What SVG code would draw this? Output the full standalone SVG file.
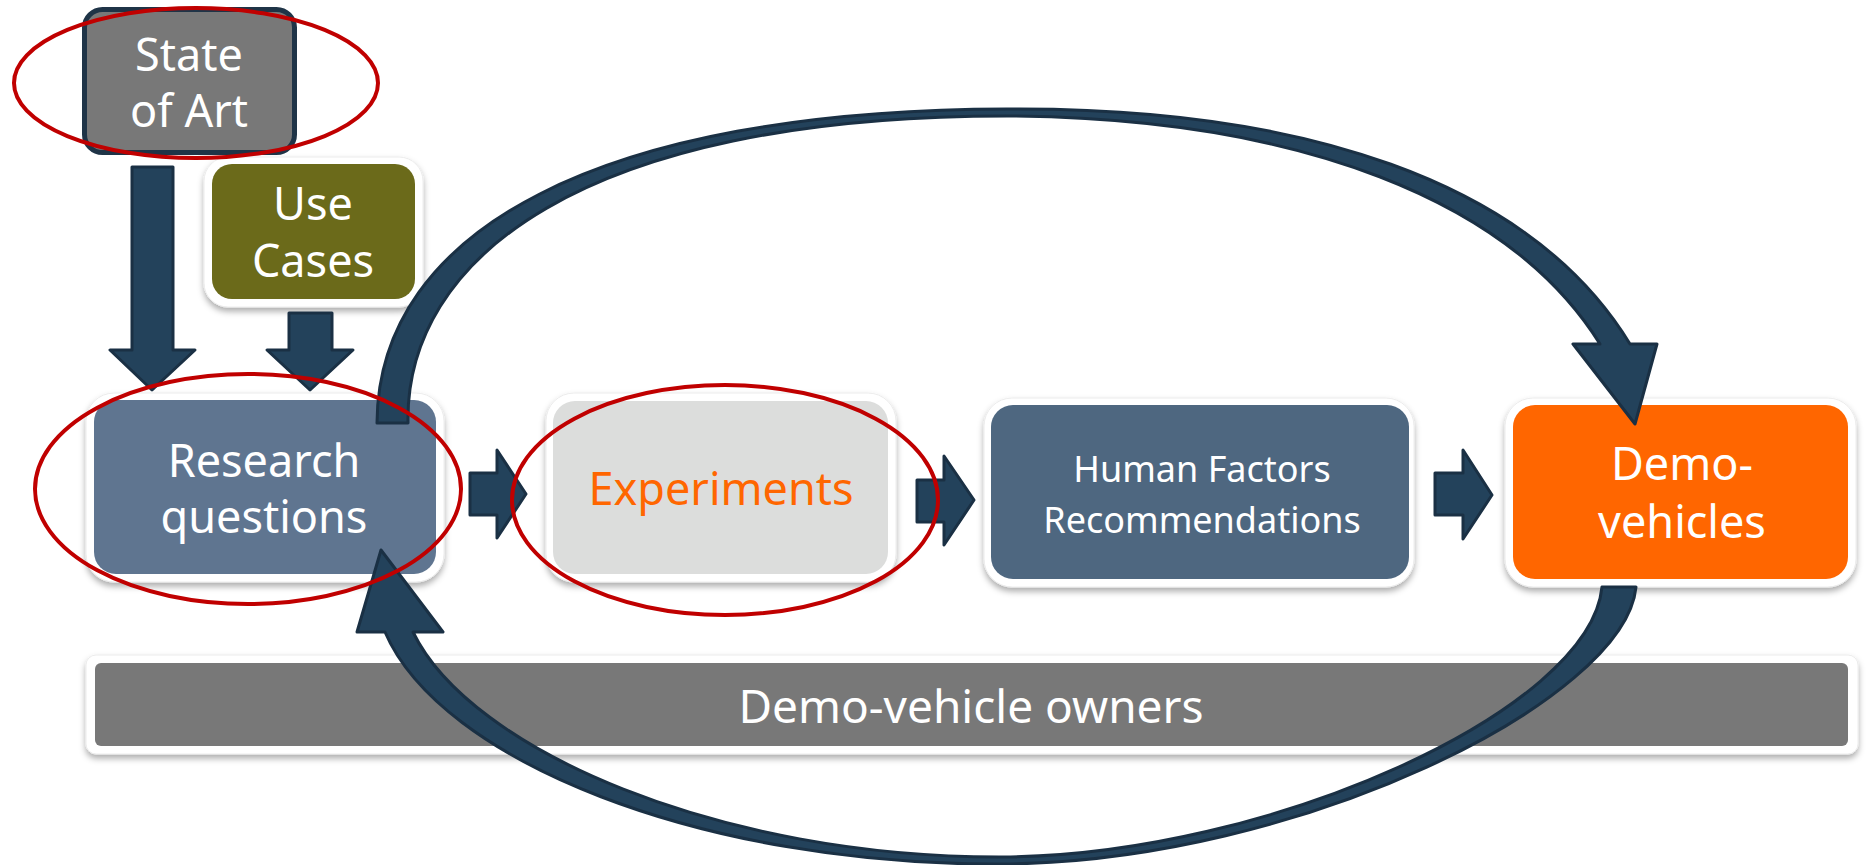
<svg xmlns="http://www.w3.org/2000/svg" width="1872" height="865" viewBox="0 0 1872 865">
  <defs>
    <filter id="shadow" x="-10%" y="-15%" width="120%" height="140%">
      <feDropShadow dx="0" dy="4" stdDeviation="3" flood-color="#000" flood-opacity="0.32"/>
    </filter>
    <style>
      .frame { fill: #ffffff; stroke: #ececec; stroke-width: 1; filter: url(#shadow); }
      .lbl { font-family: "Noto Sans", "Open Sans", sans-serif; font-size: 45px; fill: #ffffff; text-anchor: middle; }
      .arrow { fill: #23425b; stroke: #1a3044; stroke-width: 3; stroke-linejoin: round; }
      .ring { fill: none; stroke: #c00000; stroke-width: 4; }
    </style>
  </defs>

  <rect width="1872" height="865" fill="#ffffff"/>

  <!-- State of Art -->
  <g id="state-of-art">
    <rect x="84.5" y="9.5" width="210" height="143" rx="18" fill="#787878" stroke="#1f3447" stroke-width="5"/>
    <text class="lbl" x="189" y="71">State</text>
    <text class="lbl" x="189" y="127">of Art</text>
  </g>

  <!-- Use Cases -->
  <g id="use-cases">
    <rect class="frame" x="204" y="157" width="219" height="150" rx="24"/>
    <rect x="212" y="164" width="203" height="135" rx="20" fill="#6b6a1a"/>
    <text class="lbl" x="313" y="220">Use</text>
    <text class="lbl" x="313" y="277">Cases</text>
  </g>

  <!-- Research questions -->
  <g id="research-questions">
    <rect class="frame" x="86" y="393" width="358" height="189" rx="28"/>
    <rect x="94" y="400" width="342" height="174" rx="22" fill="#5f7590"/>
    <text class="lbl" x="264" y="477" font-size="44">Research</text>
    <text class="lbl" x="264" y="533" font-size="44">questions</text>
  </g>

  <!-- Experiments -->
  <g id="experiments">
    <rect class="frame" x="546" y="393" width="350" height="189" rx="28"/>
    <rect x="553" y="401" width="335" height="173" rx="22" fill="#dcdddc"/>
    <text class="lbl" x="721" y="505" style="fill:#ff6600">Experiments</text>
  </g>

  <!-- Human Factors Recommendations -->
  <g id="hf-recommendations">
    <rect class="frame" x="984" y="398" width="430" height="189" rx="28"/>
    <rect x="991" y="405" width="418" height="174" rx="22" fill="#4e6780"/>
    <text class="lbl" x="1202" y="482" style="font-size:36px">Human Factors</text>
    <text class="lbl" x="1202" y="533" style="font-size:36px">Recommendations</text>
  </g>

  <!-- Demo-vehicles -->
  <g id="demo-vehicles">
    <rect class="frame" x="1505" y="398" width="351" height="189" rx="28"/>
    <rect x="1513" y="405" width="335" height="174" rx="22" fill="#ff6600"/>
    <text class="lbl" x="1682" y="480">Demo-</text>
    <text class="lbl" x="1682" y="538">vehicles</text>
  </g>

  <!-- Demo-vehicle owners -->
  <g id="demo-vehicle-owners">
    <rect class="frame" x="86" y="655" width="1772" height="99" rx="10"/>
    <rect x="95" y="663" width="1753" height="83" rx="6" fill="#787878"/>
    <text class="lbl" x="971" y="723" style="font-size:46px">Demo-vehicle owners</text>
  </g>

  <!-- Connectors -->
  <g id="connectors">
    <!-- block arrows into Research questions -->
    <path class="arrow" d="M132 167 H173 V350 H195 L152 390 L110 350 H132 Z"/>
    <path class="arrow" d="M289 313 H332 V350 H353 L310 390 L267 350 H289 Z"/>
    <!-- block arrows along the main chain -->
    <path class="arrow" d="M470 473 H497 V450 L526 494 L497 538 V515 H470 Z"/>
    <path class="arrow" d="M917 480 H944 V456 L974 500 L944 545 V522 H917 Z"/>
    <path class="arrow" d="M1435 473 H1463 V450 L1492 495 L1463 539 V515 H1435 Z"/>
    <!-- upper loop: Research questions to Demo-vehicles -->
    <path class="arrow" d="M377 423 C378 230 600 110 1007 109 C1300 107 1530 180 1630 344 L1657 344 L1635 424 L1573 344 L1600 344 C1510 200 1300 118 1007 116 C580 116 405 260 408 423 Z"/>
    <!-- lower loop: Demo-vehicles back to Research questions -->
    <path class="arrow" d="M1602 587 L1636 587 C1625 700 1300 862 1003 864 C700 866 440 760 385 632 L357 632 L381 550 L443 632 L413 632 C470 750 720 858 1003 857 C1270 855 1590 710 1602 587 Z"/>
  </g>

  <!-- highlight rings -->
  <g id="highlights">
    <ellipse class="ring" cx="196" cy="83" rx="182" ry="75"/>
    <ellipse class="ring" cx="248" cy="489" rx="213" ry="115"/>
    <ellipse class="ring" cx="725" cy="500" rx="213" ry="115"/>
  </g>
</svg>
